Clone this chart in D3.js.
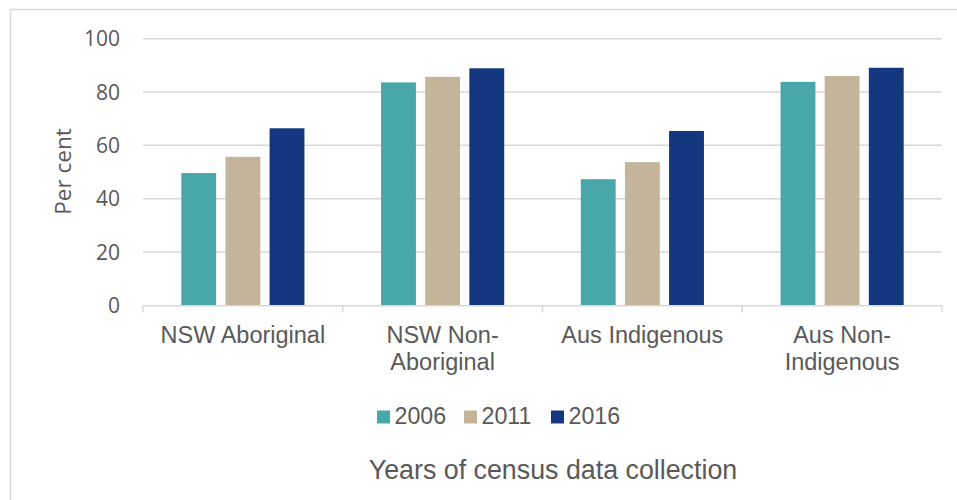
<!DOCTYPE html>
<html>
<head>
<meta charset="utf-8">
<script src="https://cdn.jsdelivr.net/npm/d3@7"></script>
<style>
  html, body { margin: 0; padding: 0; background: #fff; }
  svg { display: block; }
</style>
</head>
<body>
<svg id="chart" width="957" height="500"></svg>
<script>
const categories = [["NSW Aboriginal"], ["NSW Non-", "Aboriginal"], ["Aus Indigenous"], ["Aus Non-", "Indigenous"]];
const categoryKeys = ["NSW Aboriginal", "NSW Non-Aboriginal", "Aus Indigenous", "Aus Non-Indigenous"];
const years = ["2006", "2011", "2016"];
const values2006 = [49.6, 83.6, 47.3, 83.8];
const values2011 = [55.7, 85.7, 53.7, 86.0];
const values2016 = [66.4, 88.9, 65.4, 89.1];
const yTicks = [0, 20, 40, 60, 80, 100];
const colors = ["#48A7A8", "#C3B49A", "#14387F"];

const series = [values2006, values2011, values2016];
const data = categoryKeys.map((c, i) => ({
  key: c, lines: categories[i],
  vals: years.map((yr, j) => ({ year: yr, value: series[j][i], color: colors[j] }))
}));

const svg = d3.select("#chart");
const textColor = "#595959";
const gridColor = "#D9D9D9";

// frame
svg.append("rect").attr("x", 10.5).attr("y", 9.5).attr("width", 960).attr("height", 520)
  .attr("fill", "none").attr("stroke", "#D9D9D9").attr("stroke-width", 1.5);

const pL = 143, pR = 942, pT = 38.7, pB = 305.3;
const x0 = d3.scaleBand().domain(categoryKeys).range([pL, pR]).paddingInner(0).paddingOuter(0);
const x1 = d3.scaleBand().domain(years).range([38.3, x0.bandwidth() - 38.3]).paddingInner(0.21).paddingOuter(0);
const yS = d3.scaleLinear().domain([0, 100]).range([pB, pT]);

// gridlines
svg.append("g").selectAll("line").data(yTicks.filter(t => t > 0)).join("line")
  .attr("x1", pL).attr("x2", pR)
  .attr("y1", d => yS(d)).attr("y2", d => yS(d))
  .attr("stroke", gridColor).attr("stroke-width", 1.5);

// y tick labels
svg.append("g").selectAll("text").data(yTicks).join("text")
  .attr("x", 120).attr("y", d => yS(d)).attr("dy", "0.36em")
  .attr("text-anchor", "end")
  .attr("font-family", "'Open Sans', sans-serif").attr("font-size", 21)
  .attr("fill", textColor).text(d => d);

// bars
const groups = svg.append("g").selectAll("g").data(data).join("g")
  .attr("transform", d => `translate(${x0(d.key)},0)`);
groups.selectAll("rect").data(d => d.vals).join("rect")
  .attr("x", d => x1(d.year)).attr("width", x1.bandwidth())
  .attr("y", d => yS(d.value)).attr("height", d => yS(0) - yS(d.value))
  .attr("fill", d => d.color);

// x axis line and ticks
svg.append("line").attr("x1", pL).attr("x2", pR).attr("y1", pB + 0.5).attr("y2", pB + 0.5)
  .attr("stroke", gridColor).attr("stroke-width", 1.5);
const boundaries = categoryKeys.map(k => x0(k)).concat([pR]);
svg.append("g").selectAll("line").data(boundaries).join("line")
  .attr("x1", d => d).attr("x2", d => d).attr("y1", pB).attr("y2", pB + 7)
  .attr("stroke", gridColor).attr("stroke-width", 1.5);

// category labels
const catG = svg.append("g").selectAll("text").data(data).join("text")
  .attr("x", d => x0(d.key) + x0.bandwidth() / 2).attr("y", 343)
  .attr("text-anchor", "middle")
  .attr("font-family", "'Liberation Sans', Arial, sans-serif").attr("font-size", 23.5)
  .attr("fill", textColor);
catG.selectAll("tspan").data(d => d.lines).join("tspan")
  .attr("x", function() { return d3.select(this.parentNode).attr("x"); })
  .attr("dy", (d, i) => i === 0 ? 0 : 27)
  .text(d => d);

// y axis title
svg.append("text")
  .attr("transform", "translate(71,171.5) rotate(-90)")
  .attr("text-anchor", "middle")
  .attr("font-family", "'Open Sans', sans-serif").attr("font-size", 22.5)
  .attr("fill", textColor).text("Per cent");

// legend
const legendX = [377, 464, 551];
const leg = svg.append("g").selectAll("g").data(years).join("g")
  .attr("transform", (d, i) => `translate(${legendX[i]},0)`);
leg.append("rect").attr("x", 0).attr("y", 410.5).attr("width", 13).attr("height", 13)
  .attr("fill", (d, i) => colors[i]);
leg.append("text").attr("x", 17.5).attr("y", 423.5)
  .attr("font-family", "'Liberation Sans', Arial, sans-serif").attr("font-size", 23.2)
  .attr("fill", textColor).text(d => d);

// x axis title
svg.append("text").attr("x", 553).attr("y", 478.5).attr("text-anchor", "middle")
  .attr("font-family", "'Liberation Sans', Arial, sans-serif").attr("font-size", 26.8)
  .attr("fill", textColor).text("Years of census data collection");
</script>
</body>
</html>
